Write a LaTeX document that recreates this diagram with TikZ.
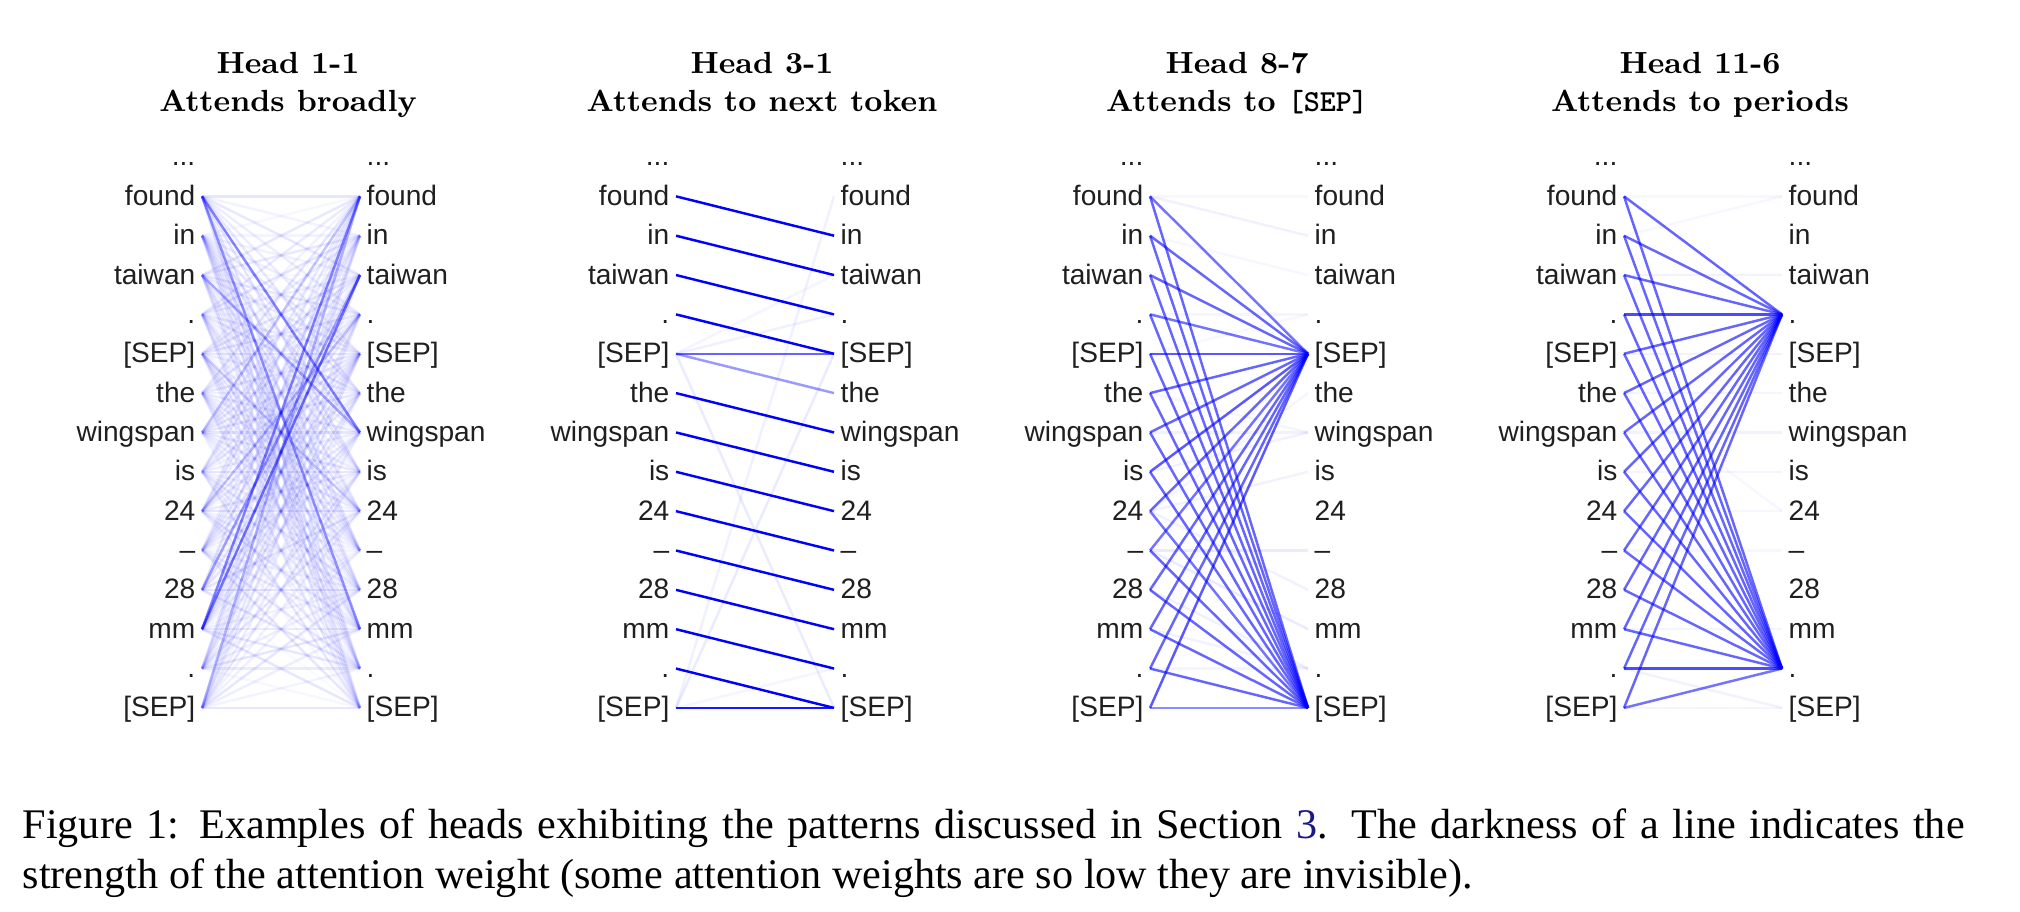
\documentclass[tikz,border=0pt]{standalone}
\usepackage{fontspec}
\usepackage{xcolor}
\usetikzlibrary{positioning}
\newfontfamily\tokfont{Liberation Sans}
\newfontfamily\capfont{Liberation Serif}
\definecolor{linkblue}{RGB}{25,25,130}
\newcommand{\tokdots}{...}
\tikzset{
  tok/.style={font=\tokfont\fontsize{8}{9.6}\selectfont, text=black!88, inner sep=0pt, text height=1.8mm, text depth=0pt},
  head/.style={font=\bfseries\fontsize{8.7}{10}\selectfont, anchor=base, inner sep=0pt},
  att/.style={blue, line width=0.7pt},
  capstyle/.style={font=\capfont\fontsize{12}{14.5}\selectfont, anchor=base west, inner sep=0pt, text width=194.2mm, align=justify}
}

\begin{document}
\begin{tikzpicture}[x=0.1mm, y=-0.1mm]
    \useasboundingbox (0,0) rectangle (2020,912);

    % Titles of the four heads
    \foreach \p/\xc/\ha/\hb in {1/288/Head 1-1/Attends broadly,
                                2/762/Head 3-1/Attends to next token,
                                3/1237/Head 8-7/Attends to \texttt{[SEP]},
                                4/1700/Head 11-6/Attends to periods} {
        \node[head] (h\p) at (\xc, 73.5) {\ha};
        \node[head] (d\p) at (\xc, 111.5) {\hb};
    }

    % Tokens on both sides of each head
    \foreach \p/\xa in {1/202, 2/676, 3/1150, 4/1624} {
        \foreach \tok [count=\k from 0] in {\tokdots,found,in,taiwan,.,{[SEP]},the,wingspan,is,24,–,28,mm,.,{[SEP]}} {
            \coordinate (a\p-\k) at (\xa, 157+39.35*\k);
            \coordinate (b\p-\k) at (\xa+158, 157+39.35*\k);
            \node[tok, left=0.6mm of a\p-\k] (l\p-\k) {\tok};
            \node[tok, right=0.6mm of b\p-\k] (r\p-\k) {\tok};
        }
    }

    % Head 1-1: weak lines everywhere
    \foreach \i in {1,...,14} {
        \foreach \j in {1,...,14} {
            \pgfmathsetmacro{\w}{0.02+0.08*abs(sin(71*\i*\j+29*\j))}
            \draw[att, draw opacity=\w] (a1-\i) -- (b1-\j);
        }
    }
    \foreach \i/\j/\w in {1/7/.45, 1/12/.35, 3/7/.25, 12/1/.45, 12/3/.5,
                          11/3/.3, 14/1/.2, 7/1/.2, 9/4/.2, 5/9/.15} {
        \draw[att, draw opacity=\w] (a1-\i) -- (b1-\j);
    }

    % Head 3-1
    \foreach \i/\j/\w in {1/2/1, 2/3/1, 3/4/1, 4/5/1, 5/5/.6, 5/6/.4,
                          6/7/1, 7/8/1, 8/9/1, 9/10/1, 10/11/1, 11/12/1,
                          12/13/1, 13/14/1, 14/14/.9,
                          5/14/.08, 14/1/.06, 14/5/.08, 5/4/.06, 5/3/.04, 14/13/.04} {
        \draw[att, draw opacity=\w] (a2-\i) -- (b2-\j);
    }

    % Head 8-7
    \foreach \i/\u/\v in {1/.55/.6, 2/.6/.6, 3/.6/.6, 4/.55/.6, 5/.65/.6,
                          6/.6/.6, 7/.6/.6, 8/.65/.6, 9/.6/.55, 10/.55/.6,
                          11/.6/.6, 12/.6/.6, 13/.6/.6, 14/.65/.45} {
        \draw[att, draw opacity=\u] (a3-\i) -- (b3-5);
        \draw[att, draw opacity=\v] (a3-\i) -- (b3-14);
    }
    \foreach \i/\j/\w in {1/2/.06, 1/1/.03, 2/3/.03, 4/4/.04, 9/6/.04, 9/8/.05,
                          9/11/.05, 10/10/.08, 10/12/.08, 11/13/.06, 12/13/.05,
                          7/7/.05, 8/7/.05, 6/7/.04, 13/13/.04, 5/4/.03} {
        \draw[att, draw opacity=\w] (a3-\i) -- (b3-\j);
    }

    % Head 11-6
    \foreach \i/\u/\v in {1/.6/.6, 2/.6/.6, 3/.6/.6, 4/.7/.6, 5/.6/.6,
                          6/.6/.6, 7/.6/.6, 8/.6/.6, 9/.6/.6, 10/.6/.6,
                          11/.6/.6, 12/.6/.6, 13/.6/.7, 14/.6/.55} {
        \draw[att, draw opacity=\u] (a4-\i) -- (b4-4);
        \draw[att, draw opacity=\v] (a4-\i) -- (b4-13);
    }
    \foreach \i/\j/\w in {1/1/.03, 2/1/.03, 3/3/.05, 5/5/.05, 6/6/.04, 7/7/.05,
                          8/8/.04, 6/9/.03, 9/9/.03, 10/10/.03, 12/12/.04,
                          13/14/.05, 14/14/.04} {
        \draw[att, draw opacity=\w] (a4-\i) -- (b4-\j);
    }

    % Caption
    \node[capstyle] (cap) at (22, 838) {\noindent Figure 1: Examples of heads exhibiting the patterns discussed in Section \textcolor{linkblue}{3}. The darkness of a line indicates the\linebreak strength of the attention weight (some attention weights are so low they are invisible).};
\end{tikzpicture}
\end{document}
